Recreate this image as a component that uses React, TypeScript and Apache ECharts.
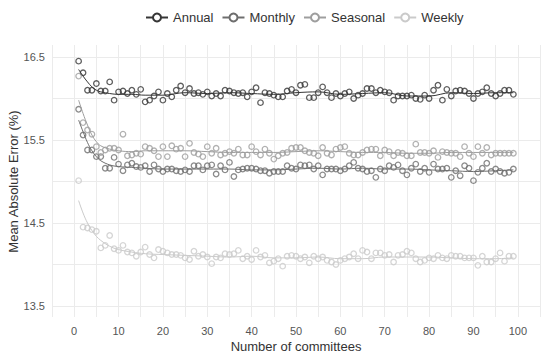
import React, { useEffect, useRef } from "react";
import * as echarts from "echarts";

const committees: number[] = Array.from({ length: 99 }, (_, i) => i + 1);

const annual: number[] = [
  16.45, 16.31, 16.10, 16.10, 16.18, 16.09, 16.09, 16.20, 15.98, 16.08,
  16.09, 16.06, 16.10, 16.05, 16.11, 15.96, 15.98, 16.03, 16.08, 15.98,
  16.06, 16.02, 16.10, 16.15, 16.07, 16.12, 16.06, 16.07,
  16.05, 16.08, 16.03, 16.06, 16.03, 16.10, 16.09, 16.07, 16.06, 16.07,
  16.02, 16.08, 16.13, 15.95, 16.07, 16.06, 16.04, 16.02, 16.02, 16.09,
  16.11, 16.07, 16.16, 16.17, 16.01, 16.01, 16.07, 16.14, 16.07, 16.01,
  16.06, 16.03, 16.06, 16.08, 16.00, 16.04, 16.06, 16.12,
  16.12, 16.07, 16.10, 16.08, 16.07, 15.98, 16.03, 16.03, 16.03, 16.04,
  16.00, 15.99, 16.04, 16.00, 16.10, 16.16, 15.98, 16.11, 16.03, 16.09,
  16.10, 16.09, 16.06, 16.00, 16.06, 16.08, 16.13, 16.06, 16.03, 16.06,
  16.10, 16.10, 16.05,
];

const monthly: number[] = [
  15.87, 15.56, 15.38, 15.38, 15.30, 15.30, 15.16, 15.16, 15.29, 15.21,
  15.13, 15.20, 15.22, 15.18, 15.17, 15.19, 15.12, 15.20, 15.15, 15.12,
  15.15, 15.15, 15.13, 15.12, 15.14, 15.12, 15.19, 15.19,
  15.14, 15.19, 15.20, 15.09, 15.19, 15.14, 15.23, 15.06, 15.14, 15.15,
  15.16, 15.16, 15.15, 15.13, 15.13, 15.10, 15.12, 15.12, 15.12, 15.19,
  15.16, 15.15, 15.20, 15.19, 15.20, 15.15, 15.19, 15.08, 15.15, 15.15,
  15.15, 15.13, 15.15, 15.19, 15.23, 15.16, 15.15, 15.12,
  15.13, 15.05, 15.15, 15.13, 15.19, 15.17, 15.20, 15.13, 15.08, 15.16,
  15.21, 15.12, 15.16, 15.11, 15.21, 15.15, 15.15, 15.16, 15.05, 15.13,
  15.07, 15.19, 15.16, 15.01, 15.11, 15.16, 15.22, 15.12, 15.15, 15.12,
  15.10, 15.11, 15.15,
];

const seasonal: number[] = [
  16.27, 15.71, 15.62, 15.57, 15.42, 15.35, 15.38, 15.40, 15.40, 15.38,
  15.57, 15.31, 15.32, 15.34, 15.33, 15.42, 15.40, 15.37, 15.30, 15.42,
  15.30, 15.43, 15.39, 15.40, 15.30, 15.46, 15.35, 15.33,
  15.30, 15.42, 15.34, 15.40, 15.32, 15.34, 15.36, 15.34, 15.39, 15.32,
  15.32, 15.42, 15.36, 15.32, 15.39, 15.34, 15.27, 15.31, 15.34, 15.35,
  15.40, 15.41, 15.41, 15.37, 15.35, 15.34, 15.31, 15.41, 15.34, 15.32,
  15.39, 15.41, 15.42, 15.34, 15.32, 15.32, 15.35, 15.38,
  15.39, 15.39, 15.31, 15.38, 15.36, 15.31, 15.35, 15.34, 15.31, 15.31,
  15.45, 15.35, 15.35, 15.34, 15.37, 15.29, 15.36, 15.35, 15.34, 15.34,
  15.30, 15.42, 15.34, 15.30, 15.42, 15.34, 15.41, 15.32, 15.34, 15.34,
  15.34, 15.34, 15.34,
];

const weekly: number[] = [
  15.01, 14.45, 14.44, 14.42, 14.40, 14.20, 14.23, 14.35, 14.19, 14.17,
  14.23, 14.15, 14.14, 14.10, 14.15, 14.21, 14.12, 14.08, 14.18, 14.16,
  14.14, 14.12, 14.12, 14.11, 14.08, 14.06, 14.16, 14.10,
  14.12, 14.09, 14.01, 14.09, 14.08, 14.13, 14.12, 14.13, 14.17, 14.07,
  14.10, 14.06, 14.17, 14.09, 14.11, 14.02, 14.04, 14.07, 13.98, 14.10,
  14.11, 14.10, 14.07, 14.09, 14.02, 14.10, 14.07, 14.09, 14.05, 14.03,
  14.00, 14.05, 14.07, 14.09, 14.13, 14.07, 14.17, 14.15,
  14.07, 14.14, 14.14, 14.11, 14.12, 14.03, 14.11, 14.12, 14.16, 14.14,
  14.07, 14.03, 14.05, 14.08, 14.07, 14.11, 14.08, 14.07, 14.11, 14.10,
  14.10, 14.08, 14.08, 14.08, 13.99, 14.10, 14.03, 14.03, 14.07, 14.14,
  14.04, 14.10, 14.10,
];

// smoothed (loess-like) trend lines
const smoothX: number[] = [1, 2, 3, 4, 5, 6, 8, 10, 13, 16, 20, 25, 30, 35, 40, 45, 50, 55, 60, 65, 70, 75, 80, 85, 90, 95, 99];
const annualSmooth: number[] = [16.35, 16.27, 16.20, 16.14, 16.10, 16.08, 16.06, 16.05, 16.05, 16.04, 16.04, 16.07, 16.06, 16.07, 16.06, 16.05, 16.07, 16.08, 16.05, 16.06, 16.07, 16.03, 16.03, 16.07, 16.06, 16.07, 16.07];
const monthlySmooth: number[] = [15.74, 15.60, 15.47, 15.37, 15.30, 15.25, 15.20, 15.18, 15.17, 15.16, 15.15, 15.15, 15.15, 15.15, 15.14, 15.14, 15.15, 15.16, 15.15, 15.16, 15.15, 15.15, 15.14, 15.13, 15.12, 15.13, 15.14];
const seasonalSmooth: number[] = [15.98, 15.82, 15.68, 15.56, 15.48, 15.43, 15.39, 15.37, 15.36, 15.37, 15.37, 15.37, 15.36, 15.35, 15.35, 15.35, 15.36, 15.37, 15.36, 15.35, 15.35, 15.34, 15.34, 15.35, 15.35, 15.35, 15.35];
const weeklySmooth: number[] = [14.77, 14.62, 14.50, 14.41, 14.34, 14.29, 14.22, 14.18, 14.15, 14.13, 14.12, 14.11, 14.10, 14.09, 14.10, 14.08, 14.08, 14.09, 14.07, 14.07, 14.09, 14.09, 14.09, 14.08, 14.07, 14.07, 14.08];

const seriesNames: string[] = ["Annual", "Monthly", "Seasonal", "Weekly"];
const yTickLabels: number[] = [13.5, 14.5, 15.5, 16.5];

const FONT = "'Liberation Sans', Arial, sans-serif";
const COLORS = ["#363636", "#6e6e6e", "#9e9e9e", "#cacaca"];

export default function App() {
  const ref = useRef<HTMLDivElement>(null);

  useEffect(() => {
    document.body.style.margin = "0";
    if (!ref.current) return;
    const chart = echarts.init(ref.current, undefined, { renderer: "svg" });

    const points = [annual, monthly, seasonal, weekly];
    const smooths = [annualSmooth, monthlySmooth, seasonalSmooth, weeklySmooth];

    const series: any[] = [];
    seriesNames.forEach((name, i) => {
      series.push({
        name,
        type: "line",
        xAxisIndex: 1,
        yAxisIndex: 1,
        data: smoothX.map((x, j) => [x, smooths[i][j]]),
        smooth: 0.4,
        showSymbol: false,
        symbol: "emptyCircle",
        symbolSize: 5,
        lineStyle: { color: COLORS[i], width: 1 },
        itemStyle: { color: COLORS[i] },
        z: 3,
      });
      series.push({
        name,
        type: "scatter",
        xAxisIndex: 1,
        yAxisIndex: 1,
        data: committees.map((x, j) => [x, points[i][j]]),
        symbol: "circle",
        symbolSize: 5.5,
        itemStyle: { color: "rgba(0,0,0,0)", borderColor: COLORS[i], borderWidth: 1.3 },
        z: 2,
      });
    });

    chart.setOption({
      animation: false,
      backgroundColor: "#ffffff",
      textStyle: { fontFamily: FONT },
      legend: {
        data: seriesNames,
        top: 6,
        left: 140,
        itemWidth: 22,
        itemHeight: 10,
        itemGap: 8,
        textStyle: { fontSize: 13, color: "#333333", fontFamily: FONT },
      },
      grid: [
        { left: 52, right: 10, top: 45, bottom: 41, containLabel: false, outerBoundsMode: "none" },
        { left: 52, right: 10, top: 57, bottom: 52, containLabel: false, outerBoundsMode: "none" },
      ],
      xAxis: [
        {
          gridIndex: 0,
          type: "value",
          min: -5,
          max: 105,
          interval: 5,
          axisLine: { show: false },
          axisTick: { show: false },
          splitLine: { show: true, lineStyle: { color: "#ebebeb", width: 1 } },
          axisLabel: {
            margin: 8,
            fontSize: 11,
            color: "#555555",
            fontFamily: FONT,
            formatter: (v: number) => (v >= 0 && v <= 100 && v % 10 === 0 ? String(v) : ""),
          },
          name: "Number of committees",
          nameLocation: "middle",
          nameGap: 23,
          nameMoveOverlap: false,
          nameTextStyle: { fontSize: 13, color: "#333333", fontFamily: FONT },
        },
        {
          gridIndex: 1,
          type: "value",
          min: -5,
          max: 105,
          interval: 5,
          axisLine: { show: false },
          axisTick: { show: false },
          axisLabel: { show: false },
          splitLine: { show: false },
        },
      ],
      yAxis: [
        { gridIndex: 0, type: "value", min: 0, max: 1, show: false, splitLine: { show: false } },
        {
          gridIndex: 1,
          type: "value",
          min: 13.5,
          max: 16.5,
          interval: 0.5,
          axisLine: { show: false },
          axisTick: { show: false },
          splitLine: { show: true, lineStyle: { color: "#ebebeb", width: 1 } },
          axisLabel: {
            margin: 7,
            fontSize: 11,
            color: "#555555",
            fontFamily: FONT,
            formatter: (v: number) =>
              yTickLabels.some((t) => Math.abs(t - v) < 1e-6) ? v.toFixed(1) : "",
          },
          name: "Mean Absolute Error (%)",
          nameLocation: "middle",
          nameRotate: 90,
          nameGap: 32,
          nameMoveOverlap: false,
          nameTextStyle: { fontSize: 13, color: "#333333", fontFamily: FONT },
        },
      ],
      series,
    });

    return () => chart.dispose();
  }, []);

  return <div ref={ref} style={{ width: 550, height: 358 }} />;
}
